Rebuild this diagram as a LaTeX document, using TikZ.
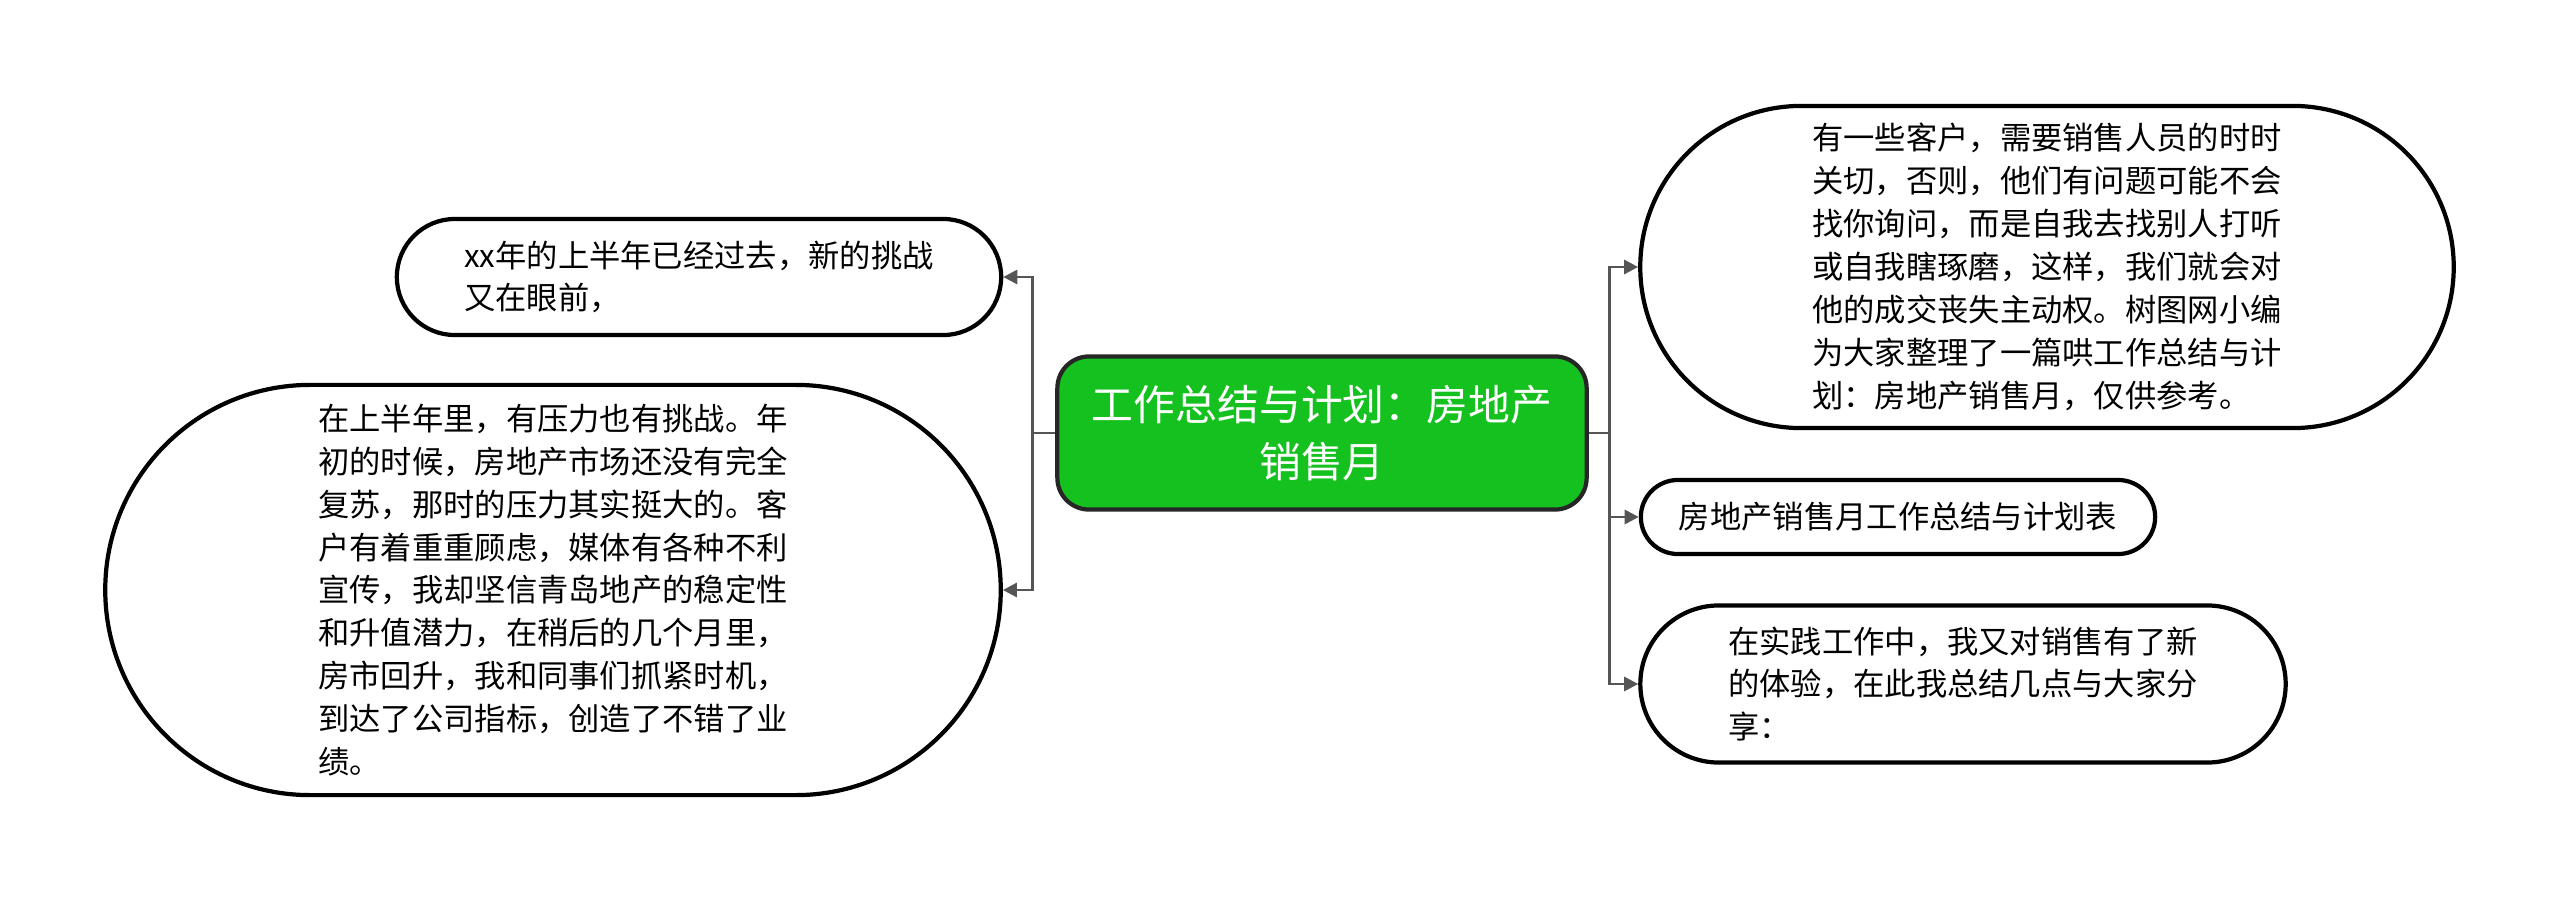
\documentclass[tikz,border=0pt]{standalone}
\usepackage{fontspec}
\setmainfont{Noto Sans CJK SC}
\usetikzlibrary{shapes.misc,arrows.meta}
\definecolor{rootgreen}{RGB}{20,193,30}
\definecolor{linkgray}{RGB}{85,85,85}
\tikzset{
  leaf/.style={rounded rectangle, draw=black, line width=1.2pt, fill=white,
    align=left, inner sep=0pt, font=\fontsize{8.9pt}{12.2pt}\selectfont},
  link/.style={-{Triangle[length=4pt,width=4pt]}, draw=linkgray, line width=0.8pt}
}
\begin{document}
\begin{tikzpicture}[x=0.01cm, y=-0.01cm]
      \useasboundingbox (0,0) rectangle (2560,900);

      % Draw the central topic
      \node[draw=black!85, line width=1.2pt, fill=rootgreen, rounded corners=9pt,
      minimum width=5.29cm, minimum height=1.53cm, align=center, text=white,
      font=\fontsize{11.9pt}{16.2pt}\selectfont] (root) at (1322,433)
      {工作总结与计划：房地产\\销售月};

      % Draw the left branches
      \node[leaf, minimum width=6.04cm, minimum height=1.16cm] (past) at (699,277)
      {xx年的上半年已经过去，新的挑战\\又在眼前，};
      \node[leaf, minimum width=8.95cm, minimum height=4.1cm] (review) at (553,590)
      {在上半年里，有压力也有挑战。年\\初的时候，房地产市场还没有完全\\复苏，那时的压力其实挺大的。客\\户有着重重顾虑，媒体有各种不利\\宣传，我却坚信青岛地产的稳定性\\和升值潜力，在稍后的几个月里，\\房市回升，我和同事们抓紧时机，\\到达了公司指标，创造了不错了业\\绩。};

      % Draw the right branches
      \node[leaf, minimum width=8.13cm, minimum height=3.22cm] (client) at (2047,267)
      {有一些客户，需要销售人员的时时\\关切，否则，他们有问题可能不会\\找你询问，而是自我去找别人打听\\或自我瞎琢磨，这样，我们就会对\\他的成交丧失主动权。树图网小编\\为大家整理了一篇哄工作总结与计\\划：房地产销售月，仅供参考。};
      \node[leaf, minimum width=5.14cm, minimum height=0.74cm] (table) at (1898,517)
      {房地产销售月工作总结与计划表};
      \node[leaf, minimum width=6.45cm, minimum height=1.57cm] (share) at (1963,684)
      {在实践工作中，我又对销售有了新\\的体验，在此我总结几点与大家分\\享：};

      % Connect the topic to its branches
      \draw[link] (root.west) -- ++(-23,0) |- (past.east);
      \draw[link] (root.west) -- ++(-23,0) |- (review.east);
      \draw[link] (root.east) -- ++(21,0) |- (client.west);
      \draw[link] (root.east) -- ++(21,0) |- (table.west);
      \draw[link] (root.east) -- ++(21,0) |- (share.west);
    \end{tikzpicture}
\end{document}
